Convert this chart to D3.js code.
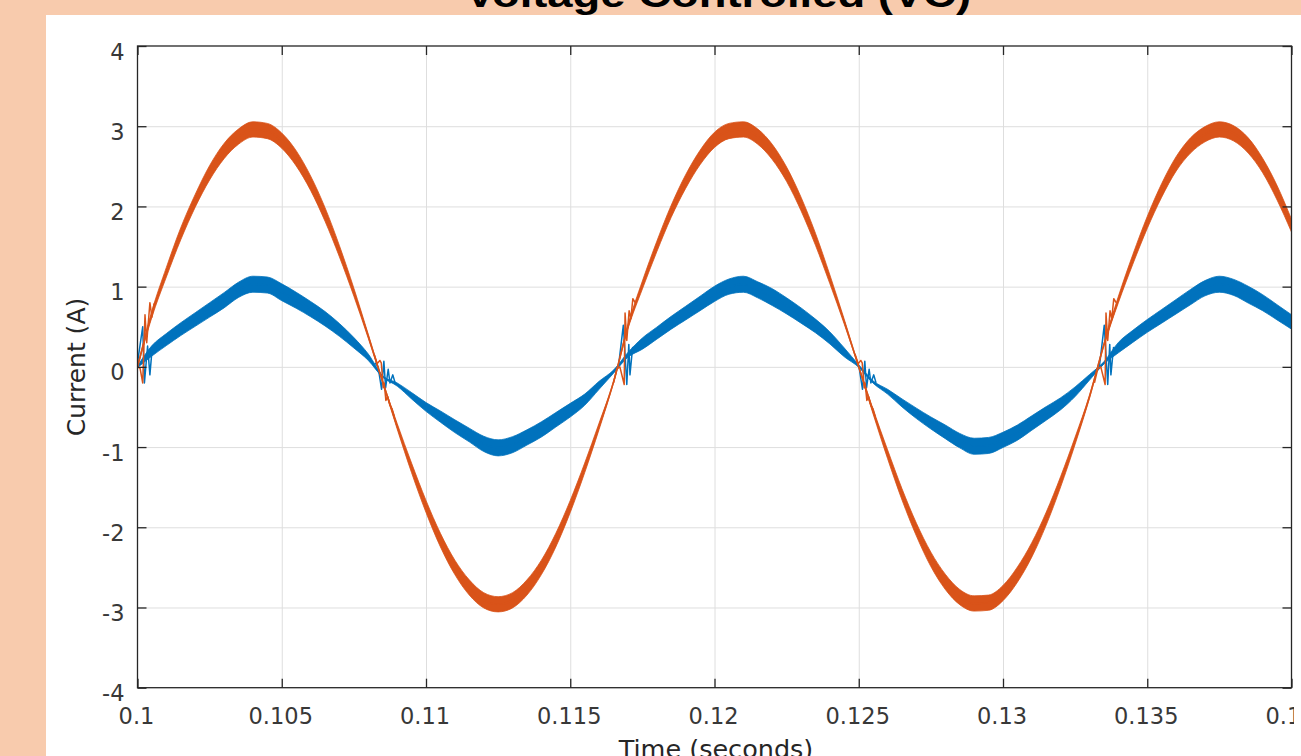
<!DOCTYPE html>
<html>
<head>
<meta charset="utf-8">
<script src="https://cdn.jsdelivr.net/npm/d3@7"></script>
<style>
  body { margin: 0; background: #f8cbad; overflow: hidden; }
  svg { display: block; }
  .tick text { font-family: "DejaVu Sans", sans-serif; font-size: 22.5px; fill: #383838; }
  .grid line { stroke: #dedede; stroke-width: 1; }
  .grid path { display: none; }
  .ax path { display: none; }
  .ax line { stroke: #262626; stroke-width: 1.3; }
</style>
</head>
<body>
<div id="content"></div>
<script>
// sample times (s), read every 0.5 ms
const timeS = [
  0.1000, 0.1005, 0.1010, 0.1015, 0.1020, 0.1025, 0.1030, 0.1035, 0.1040, 0.1045,
  0.1050, 0.1055, 0.1060, 0.1065, 0.1070, 0.1075, 0.1080, 0.1085, 0.1090, 0.1095,
  0.1100, 0.1105, 0.1110, 0.1115, 0.1120, 0.1125, 0.1130, 0.1135, 0.1140, 0.1145,
  0.1150, 0.1155, 0.1160, 0.1165, 0.1170, 0.1175, 0.1180, 0.1185, 0.1190, 0.1195,
  0.1200, 0.1205, 0.1210, 0.1215, 0.1220, 0.1225, 0.1230, 0.1235, 0.1240, 0.1245,
  0.1250, 0.1255, 0.1260, 0.1265, 0.1270, 0.1275, 0.1280, 0.1285, 0.1290, 0.1295,
  0.1300, 0.1305, 0.1310, 0.1315, 0.1320, 0.1325, 0.1330, 0.1335, 0.1340, 0.1345,
  0.1350, 0.1355, 0.1360, 0.1365, 0.1370, 0.1375, 0.1380, 0.1385, 0.1390, 0.1395,
  0.1400
];

// orange trace: mean value and ripple band (peak-to-peak), A
const orangeMid = [
  0.00, 0.66, 1.18, 1.66, 2.07, 2.42, 2.69, 2.87, 2.96, 2.94,
  2.82, 2.60, 2.29, 1.90, 1.44, 0.93, 0.38, -0.19, -0.74, -1.26,
  -1.74, -2.16, -2.50, -2.75, -2.91, -2.96, -2.91, -2.75, -2.50, -2.16,
  -1.74, -1.26, -0.74, -0.19, 0.50, 1.02, 1.50, 1.94, 2.31, 2.61,
  2.83, 2.94, 2.96, 2.87, 2.68, 2.40, 2.03, 1.59, 1.09, 0.56,
  0.00, -0.56, -1.09, -1.59, -2.03, -2.40, -2.68, -2.87, -2.95, -2.94,
  -2.82, -2.59, -2.28, -1.89, -1.43, -0.92, -0.37, 0.28, 0.84, 1.34,
  1.80, 2.20, 2.53, 2.76, 2.90, 2.96, 2.91, 2.76, 2.51, 2.17,
  1.76
];
const orangeRip = [
  0.02, 0.08, 0.12, 0.15, 0.16, 0.18, 0.19, 0.19, 0.19, 0.19,
  0.19, 0.19, 0.18, 0.17, 0.14, 0.10, 0.05, 0.02, 0.07, 0.12,
  0.15, 0.17, 0.18, 0.19, 0.19, 0.19, 0.19, 0.19, 0.18, 0.17,
  0.15, 0.12, 0.08, 0.02, 0.05, 0.10, 0.13, 0.15, 0.17, 0.18,
  0.19, 0.19, 0.19, 0.19, 0.19, 0.18, 0.17, 0.15, 0.11, 0.06,
  0.02, 0.06, 0.11, 0.14, 0.16, 0.18, 0.19, 0.19, 0.19, 0.19,
  0.19, 0.19, 0.18, 0.16, 0.13, 0.09, 0.04, 0.03, 0.08, 0.12,
  0.15, 0.17, 0.18, 0.19, 0.19, 0.19, 0.19, 0.19, 0.18, 0.18,
  0.16
];

// blue trace
const blueMid = [
  0.00, 0.20, 0.34, 0.47, 0.59, 0.71, 0.83, 0.96, 1.03, 1.02,
  0.93, 0.83, 0.72, 0.60, 0.46, 0.30, 0.12, -0.12, -0.22, -0.36,
  -0.50, -0.62, -0.74, -0.85, -0.96, -1.01, -0.97, -0.88, -0.78, -0.66,
  -0.54, -0.41, -0.23, -0.06, 0.15, 0.29, 0.42, 0.55, 0.67, 0.79,
  0.91, 1.00, 1.03, 0.96, 0.87, 0.76, 0.64, 0.51, 0.36, 0.18,
  0.01, -0.19, -0.31, -0.45, -0.58, -0.70, -0.81, -0.92, -0.99, -0.98,
  -0.91, -0.82, -0.70, -0.58, -0.46, -0.31, -0.13, 0.05, 0.24, 0.38,
  0.51, 0.63, 0.75, 0.87, 0.98, 1.03, 0.99, 0.90, 0.80, 0.68,
  0.56
];
const blueRip = [
  0.02, 0.13, 0.15, 0.16, 0.17, 0.18, 0.19, 0.19, 0.20, 0.20,
  0.21, 0.20, 0.19, 0.18, 0.16, 0.13, 0.08, 0.02, 0.04, 0.08,
  0.11, 0.14, 0.16, 0.17, 0.19, 0.20, 0.20, 0.19, 0.19, 0.18,
  0.17, 0.14, 0.10, 0.04, 0.06, 0.14, 0.15, 0.16, 0.17, 0.18,
  0.19, 0.19, 0.20, 0.20, 0.21, 0.20, 0.19, 0.17, 0.15, 0.11,
  0.03, 0.03, 0.06, 0.10, 0.13, 0.15, 0.17, 0.18, 0.20, 0.20,
  0.19, 0.19, 0.18, 0.17, 0.15, 0.12, 0.07, 0.03, 0.13, 0.15,
  0.16, 0.17, 0.18, 0.19, 0.19, 0.20, 0.20, 0.21, 0.20, 0.19,
  0.18
];

// switching transients at the zero crossings: [time, current]
const blueSpikes = [
  [[0.10000, 0.05], [0.10018, 0.50], [0.10024, -0.20], [0.10035, 0.26], [0.10043, -0.10], [0.10051, 0.24], [0.10061, 0.22]],
  [[0.10823, 0.05], [0.10834, 0.00], [0.10846, -0.28], [0.10854, 0.07], [0.10860, -0.26], [0.10869, -0.03], [0.10875, -0.20], [0.10885, -0.10], [0.10893, -0.20]],
  [[0.11655, -0.04], [0.11667, 0.00], [0.11684, 0.52], [0.11696, -0.22], [0.11703, 0.28], [0.11707, -0.10], [0.11716, 0.24], [0.11724, 0.22]],
  [[0.12490, 0.05], [0.12501, 0.00], [0.12513, -0.28], [0.12521, 0.07], [0.12527, -0.26], [0.12536, -0.03], [0.12542, -0.20], [0.12552, -0.10], [0.12560, -0.20]],
  [[0.13322, -0.04], [0.13334, 0.00], [0.13351, 0.52], [0.13363, -0.22], [0.13370, 0.28], [0.13374, -0.10], [0.13383, 0.24], [0.13391, 0.22]]
];
const orangeSpikes = [
  [[0.10000, 0.00], [0.10009, -0.02], [0.10018, -0.20], [0.10026, 0.65], [0.10032, 0.30], [0.10043, 0.80], [0.10050, 0.62], [0.10057, 0.78], [0.10061, 0.80]],
  [[0.10820, 0.16], [0.10831, 0.04], [0.10840, 0.08], [0.10845, 0.05], [0.10852, -0.26], [0.10855, -0.20], [0.10861, -0.42], [0.10867, -0.37], [0.10875, -0.48], [0.10882, -0.52], [0.10890, -0.62]],
  [[0.11650, -0.20], [0.11661, -0.03], [0.11672, 0.00], [0.11687, -0.22], [0.11690, 0.67], [0.11696, 0.33], [0.11704, 0.70], [0.11710, 0.60], [0.11717, 0.85], [0.11725, 0.80]],
  [[0.12487, 0.16], [0.12498, 0.04], [0.12507, 0.08], [0.12512, 0.05], [0.12519, -0.26], [0.12522, -0.20], [0.12528, -0.42], [0.12534, -0.37], [0.12542, -0.48], [0.12549, -0.52], [0.12557, -0.62]],
  [[0.13317, -0.20], [0.13328, -0.03], [0.13339, 0.00], [0.13354, -0.22], [0.13357, 0.67], [0.13363, 0.33], [0.13371, 0.70], [0.13377, 0.60], [0.13384, 0.85], [0.13392, 0.80]]
];

const xTickVals = [0.1, 0.105, 0.11, 0.115, 0.12, 0.125, 0.13, 0.135, 0.14];
const xTickLabels = ["0.1", "0.105", "0.11", "0.115", "0.12", "0.125", "0.13", "0.135", "0.14"];
const yTickVals = [-4, -3, -2, -1, 0, 1, 2, 3, 4];
const yTickLabels = ["-4", "-3", "-2", "-1", "0", "1", "2", "3", "4"];

const svg = d3
  .select("#content")
  .append("svg")
  .attr("width", 1301)
  .attr("height", 756);

const margin = { top: 46, left: 137.5 };
const width = 1154;
const height = 641.7;

// white picture panel on the peach slide
svg.append("rect")
  .attr("x", 46).attr("y", 15)
  .attr("width", 1255).attr("height", 741)
  .attr("fill", "#ffffff");

// slide title, mostly cut off at the top
svg.append("text")
  .attr("x", 718).attr("y", 7)
  .attr("text-anchor", "middle")
  .attr("textLength", 506)
  .attr("lengthAdjust", "spacingAndGlyphs")
  .style("font-family", "'Liberation Sans', Arial, sans-serif")
  .style("font-weight", "bold")
  .style("font-size", "36px")
  .style("fill", "#000")
  .text("Voltage Controlled (VC)");

const x = d3.scaleLinear().domain([0.1, 0.14]).range([0, width]);
const y = d3.scaleLinear().domain([-4, 4]).range([height, 0]);

const plot = svg.append("g")
  .attr("transform", `translate(${margin.left},${margin.top})`);

// grid
plot.append("g")
  .attr("class", "grid")
  .attr("transform", `translate(0,${height})`)
  .call(d3.axisBottom(x).tickValues(xTickVals.slice(1, -1)).tickSize(-height).tickFormat(""));
plot.append("g")
  .attr("class", "grid")
  .call(d3.axisLeft(y).tickValues(yTickVals.slice(1, -1)).tickSize(-width).tickFormat(""));

svg.append("clipPath").attr("id", "plotclip")
  .append("rect").attr("width", width).attr("height", height);

const series = plot.append("g").attr("clip-path", "url(#plotclip)");

function drawTrace(mid, rip, spikes, color) {
  const pts = timeS.map((t, i) => ({ t: t, m: mid[i], r: rip[i] }));
  const band = d3.area()
    .curve(d3.curveMonotoneX)
    .x(d => x(d.t))
    .y0(d => y(d.m - d.r / 2))
    .y1(d => y(d.m + d.r / 2));
  const line = d3.line()
    .curve(d3.curveMonotoneX)
    .x(d => x(d.t))
    .y(d => y(d.m));
  series.append("path")
    .datum(pts)
    .attr("d", band)
    .attr("fill", color)
    .attr("stroke", color)
    .attr("stroke-width", 0.8)
    .attr("stroke-linejoin", "round");
  series.append("path")
    .datum(pts)
    .attr("d", line)
    .attr("fill", "none")
    .attr("stroke", color)
    .attr("stroke-width", 1.6);
  const spikeLine = d3.line().x(d => x(d[0])).y(d => y(d[1]));
  series.selectAll(null)
    .data(spikes)
    .enter()
    .append("path")
    .attr("d", spikeLine)
    .attr("fill", "none")
    .attr("stroke", color)
    .attr("stroke-width", 1.5)
    .attr("stroke-linejoin", "round");
}

drawTrace(blueMid, blueRip, blueSpikes, "#0072bd");
drawTrace(orangeMid, orangeRip, orangeSpikes, "#d95319");

// axes box with inward ticks
plot.append("rect")
  .attr("width", width).attr("height", height)
  .attr("fill", "none")
  .attr("stroke", "#262626")
  .attr("stroke-width", 1.3);

svg.append("clipPath").attr("id", "labelclip")
  .append("rect").attr("x", 0).attr("y", 0).attr("width", 1294).attr("height", 756);

const xAxisG = svg.append("g").attr("clip-path", "url(#labelclip)")
  .append("g")
  .attr("class", "ax")
  .attr("transform", `translate(${margin.left},${margin.top + height})`)
  .call(d3.axisBottom(x).tickValues(xTickVals)
    .tickFormat((d, i) => xTickLabels[i])
    .tickSizeInner(-9).tickSizeOuter(0));
xAxisG.selectAll("text").attr("y", 36.5).attr("dy", null).attr("x", -1.5);

plot.append("g").attr("class", "ax")
  .call(d3.axisTop(x).tickValues(xTickVals).tickSizeInner(-9).tickSizeOuter(0).tickFormat(""));

const yAxisG = plot.append("g").attr("class", "ax")
  .call(d3.axisLeft(y).tickValues(yTickVals)
    .tickFormat((d, i) => yTickLabels[i])
    .tickSizeInner(-9).tickSizeOuter(0));
yAxisG.selectAll("text").attr("x", -13).attr("dy", 13);

plot.append("g").attr("class", "ax")
  .attr("transform", `translate(${width},0)`)
  .call(d3.axisRight(y).tickValues(yTickVals).tickSizeInner(-9).tickSizeOuter(0).tickFormat(""));

// axis labels
svg.append("text")
  .attr("x", 716).attr("y", 758)
  .attr("text-anchor", "middle")
  .style("font-family", "'DejaVu Sans', sans-serif")
  .style("font-size", "25.5px")
  .style("fill", "#262626")
  .text("Time (seconds)");

svg.append("text")
  .attr("transform", "translate(85,367) rotate(-90)")
  .attr("text-anchor", "middle")
  .style("font-family", "'DejaVu Sans', sans-serif")
  .style("font-size", "25px")
  .style("fill", "#262626")
  .text("Current (A)");
</script>
</body>
</html>
